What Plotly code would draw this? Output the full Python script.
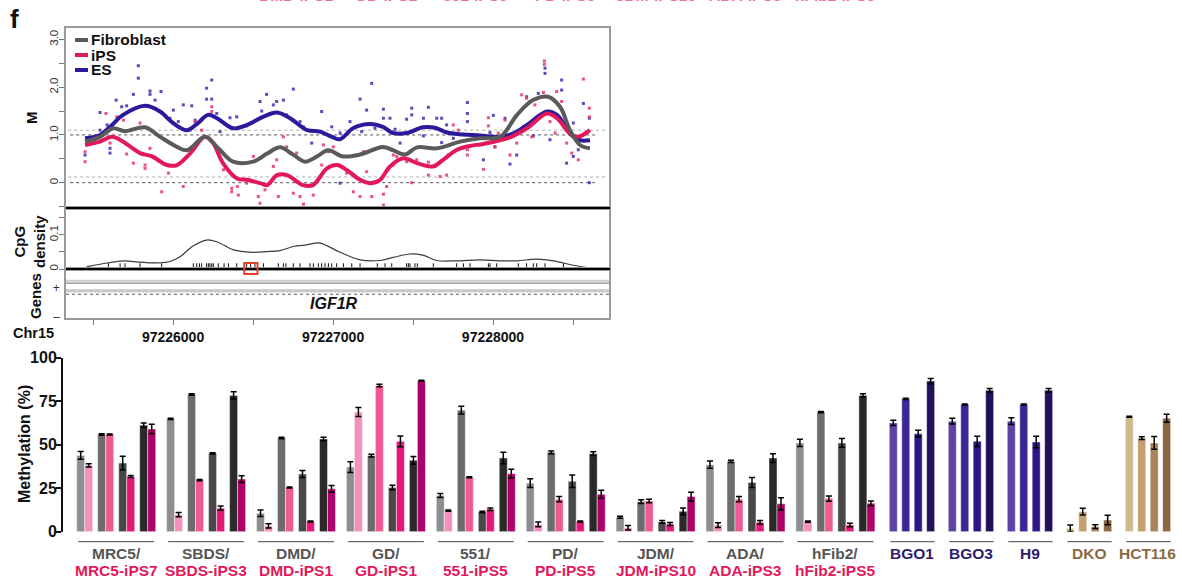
import plotly.graph_objects as go

W, H = 1182, 581
FONT = "Liberation Sans, Arial, Helvetica, sans-serif"

# ---------------- genome browser: IGF1R region, chr15 ----------------
# smoothed M-value profiles (position in bp, M)
fib_pos = [97225450, 97225544, 97225625, 97225700, 97225825, 97225919, 97226025, 97226088,
           97226200, 97226275, 97226375, 97226500, 97226588, 97226669, 97226750, 97226825,
           97226900, 97226969, 97227062, 97227169, 97227312, 97227375, 97227450, 97227525,
           97227650, 97227794, 97227919, 97228044, 97228150, 97228250, 97228344, 97228419,
           97228481, 97228544, 97228606]
fib_m = [0.86, 0.96, 1.14, 1.08, 1.16, 0.96, 0.75, 0.68, 0.96, 0.75, 0.44, 0.44, 0.61, 0.74,
         0.59, 0.44, 0.55, 0.68, 0.55, 0.59, 0.75, 0.68, 0.59, 0.74, 0.72, 0.86, 0.93, 0.96,
         1.42, 1.73, 1.80, 1.59, 1.10, 0.79, 0.72]

ips_pos = [97225450, 97225544, 97225619, 97225688, 97225794, 97225869, 97225962, 97226025,
           97226106, 97226200, 97226250, 97226312, 97226400, 97226462, 97226544, 97226588,
           97226650, 97226712, 97226812, 97226875, 97226962, 97227025, 97227088, 97227169,
           97227231, 97227294, 97227356, 97227438, 97227525, 97227625, 97227688, 97227775,
           97227856, 97227938, 97228044, 97228106, 97228212, 97228338, 97228400, 97228481,
           97228531, 97228606]
ips_m = [0.79, 0.86, 0.96, 0.86, 0.62, 0.55, 0.37, 0.37, 0.61, 0.96, 0.83, 0.41, 0.09, 0.06,
         -0.01, -0.05, 0.16, 0.16, -0.05, -0.05, 0.30, 0.37, 0.26, 0.06, -0.01, 0.06, 0.34,
         0.51, 0.41, 0.34, 0.48, 0.69, 0.77, 0.81, 0.89, 0.95, 1.14, 1.45, 1.35, 1.03, 0.96,
         1.10]

es_pos = [97225450, 97225544, 97225606, 97225688, 97225825, 97225919, 97226000, 97226088,
          97226156, 97226219, 97226275, 97226375, 97226462, 97226562, 97226650, 97226731,
          97226838, 97226919, 97226994, 97227044, 97227125, 97227231, 97227312, 97227375,
          97227462, 97227562, 97227638, 97227712, 97227812, 97227919, 97228044, 97228125,
          97228212, 97228338, 97228400, 97228481, 97228544, 97228606]
es_m = [0.93, 1.00, 1.17, 1.42, 1.61, 1.49, 1.25, 1.10, 1.25, 1.42, 1.35, 1.14, 1.21, 1.38,
        1.47, 1.35, 1.10, 1.07, 0.96, 0.91, 1.14, 1.23, 1.17, 1.04, 1.04, 1.16, 1.15, 1.05,
        1.01, 0.99, 0.96, 1.03, 1.21, 1.49, 1.42, 1.03, 0.89, 0.89]

# single-CpG M values
es_dot_pos = [97225450, 97225544, 97225544, 97225588, 97225606, 97225606, 97225644, 97225679,
              97225710, 97225752, 97225783, 97225783, 97225856, 97225856, 97225888, 97225925,
              97225981, 97226002, 97226033, 97226064, 97226117, 97226138, 97226210, 97226210,
              97226242, 97226242, 97226273, 97226294, 97226356, 97226398, 97226460, 97226544,
              97226554, 97226585, 97226627, 97226648, 97226690, 97226710, 97226752, 97226794,
              97226815, 97226867, 97226929, 97226992, 97227044, 97227044, 97227106, 97227169,
              97227179, 97227210, 97227242, 97227262, 97227315, 97227356, 97227315, 97227388,
              97227419, 97227460, 97227492, 97227492, 97227565, 97227565, 97227596, 97227648,
              97227679, 97227679, 97227710, 97227752, 97227840, 97227840, 97227840, 97227940,
              97227981, 97228002, 97228012, 97228075, 97228106, 97228148, 97228190, 97228210,
              97228252, 97228283, 97228325, 97228325, 97228356, 97228429, 97228429, 97228460,
              97228502, 97228502, 97228533, 97228565, 97228602, 97228602]
es_dot_m = [0.58, 1.47, 1.10, 1.21, 0.72, 0.62, 1.73, 1.59, 1.61, 1.85, 2.45, 2.19, 1.92, 1.85,
            1.73, 1.91, 1.35, 1.52, 1.28, 1.63, 1.61, 1.31, 1.98, 1.75, 2.15, 1.75, 1.45, 1.07,
            1.36, 1.38, 1.19, 1.70, 1.50, 1.85, 1.63, 1.70, 1.73, 1.42, 1.96, 1.28, 1.17, 0.83,
            1.49, 1.17, 1.04, -0.01, 1.28, 1.75, 1.07, 1.52, 2.08, 1.14, 1.54, 1.35, 1.35, 1.12,
            0.83, 1.33, 1.56, 1.42, 1.35, 0.98, 1.58, 1.35, 1.35, 0.84, 1.21, 0.93, 1.68, 1.45,
            1.28, 0.48, 1.05, 1.41, 0.75, 1.35, 0.39, 0.58, 1.17, 1.80, 0.98, 1.87, 2.40, 2.29,
            0.90, 2.15, 1.94, 0.41, 1.25, 0.55, 0.69, 1.66, 1.35, 0.00]

ips_dot_pos = [97225450, 97225450, 97225544, 97225581, 97225606, 97225648, 97225690, 97225710,
               97225752, 97225794, 97225825, 97225825, 97225856, 97225929, 97225971, 97226064,
               97226106, 97226138, 97226179, 97226242, 97226242, 97226273, 97226315, 97226367,
               97226367, 97226402, 97226408, 97226460, 97226502, 97226533, 97226544, 97226575,
               97226627, 97226648, 97226658, 97226690, 97226710, 97226752, 97226773, 97226794,
               97226815, 97226856, 97226877, 97226929, 97226940, 97226971, 97227002, 97227033,
               97227085, 97227127, 97227169, 97227190, 97227210, 97227242, 97227315, 97227335,
               97227377, 97227315, 97227377, 97227398, 97227460, 97227492, 97227523, 97227596,
               97227596, 97227638, 97227669, 97227710, 97227721, 97227752, 97227783, 97227840,
               97227840, 97227940, 97227971, 97227971, 97228012, 97228033, 97228075, 97228106,
               97228148, 97228179, 97228210, 97228242, 97228262, 97228315, 97228321, 97228321,
               97228356, 97228388, 97228398, 97228429, 97228460, 97228492, 97228533, 97228565,
               97228602, 97228602]
ips_dot_m = [0.65, 0.44, 0.96, 1.45, 0.83, 1.38, 1.31, 0.60, 0.41, 1.25, 0.37, 0.30, 0.72,
             -0.19, 0.20, -0.08, 1.10, 1.28, 1.10, 1.59, 1.49, 0.69, 0.27, -0.12, -0.19, -0.08,
             -0.26, -0.01, 0.55, -0.29, -0.43, -0.15, 0.34, 0.48, -0.29, 0.96, 0.75, -0.22,
             0.62, -0.29, -0.45, -0.05, -0.26, 0.37, 0.79, 0.65, 0.75, 0.37, 0.20, -0.19, -0.29,
             0.65, 0.23, -0.29, -0.47, -0.08, 0.37, -0.24, 0.58, 0.55, 0.44, 0.00, 0.48, 0.43,
             0.16, 0.34, 0.13, 0.16, 0.58, 1.21, 1.10, 0.69, 0.58, 0.28, 1.36, 1.19, 0.75, 1.04,
             1.31, 0.58, 0.83, 1.84, 1.77, 0.96, 1.63, 1.89, 2.55, 2.48, 1.28, 1.04, 1.91, 1.70,
             0.83, 0.62, 0.48, 2.17, 1.56, 1.38]

# reference M levels (dark dotted / light dotted)
ref_levels = [0.0, 1.0]
ref_levels_light = [0.12, 1.1]

# CpG density and CpG sites
cpg_pos = [97225461, 97225544, 97225689, 97225794, 97225898, 97225981, 97226044, 97226127,
           97226210, 97226273, 97226377, 97226440, 97226502, 97226585, 97226669, 97226752,
           97226835, 97226919, 97227044, 97227169, 97227294, 97227377, 97227481, 97227565,
           97227648, 97227773, 97227919, 97228044, 97228148, 97228273, 97228377, 97228502,
           97228606]
cpg_density = [0.007, 0.014, 0.024, 0.020, 0.018, 0.022, 0.036, 0.068, 0.085, 0.080, 0.056,
               0.051, 0.049, 0.051, 0.054, 0.066, 0.071, 0.076, 0.049, 0.027, 0.025, 0.034,
               0.044, 0.040, 0.025, 0.024, 0.027, 0.024, 0.024, 0.029, 0.024, 0.011, 0.003]
cpg_sites = [97225596, 97225669, 97225700, 97225794, 97225929, 97226127, 97226148, 97226165,
             97226179, 97226210, 97226221, 97226231, 97226242, 97226252, 97226283, 97226319,
             97226346, 97226398, 97226460, 97226485, 97226512, 97226565, 97226658, 97226690,
             97226706, 97226752, 97226794, 97226856, 97226877, 97226908, 97226929, 97226950,
             97226971, 97226992, 97227023, 97227065, 97227117, 97227169, 97227277, 97227325,
             97227367, 97227460, 97227471, 97227481, 97227512, 97227527, 97227627, 97227773,
             97227815, 97227856, 97227971, 97227981, 97228023, 97228158, 97228210, 97228252,
             97228273, 97228325, 97228440]
pyro_region = [97226445, 97226528]   # assayed region (red box)

gene_name = "IGF1R"
gene_label_pos = 97227006
chrom = "Chr15"
x_ticks = [97225500, 97226000, 97226500, 97227000, 97227500, 97228000, 97228500]
x_ticklabels = ["", "97226000", "", "97227000", "", "97228000", ""]

# ---------------- pyrosequencing: methylation (%) at 4 CpGs ----------------
groups = ["MRC5", "SBDS", "DMD", "GD", "551", "PD", "JDM", "ADA", "hFib2"]
ips_lines = ["MRC5-iPS7", "SBDS-iPS3", "DMD-iPS1", "GD-iPS1", "551-iPS5", "PD-iPS5",
             "JDM-iPS10", "ADA-iPS3", "hFib2-iPS5"]
fib_pct = [[43.8, 55.8, 39.4, 61.2], [64.8, 78.8, 45.0, 78.3], [10.6, 53.8, 33.1, 53.3],
           [37.1, 43.7, 25.4, 41.0], [20.8, 69.8, 11.3, 42.3], [27.9, 45.6, 29.0, 44.8],
           [8.3, 17.3, 5.6, 11.7], [38.5, 40.4, 28.3, 42.3], [51.0, 68.7, 51.0, 78.3]]
fib_sd = [[2.2, 0.4, 4.0, 1.2], [0.4, 0.4, 0.4, 2.1], [1.9, 0.4, 2.0, 1.0],
          [3.1, 0.8, 1.3, 2.2], [1.2, 2.2, 0.4, 3.3], [2.5, 0.8, 3.6, 1.1],
          [0.6, 1.1, 0.8, 1.9], [2.1, 0.7, 2.9, 2.5], [2.1, 0.4, 2.5, 1.0]]
ips_pct = [[38.1, 55.8, 31.7, 59.0], [9.8, 29.6, 13.5, 30.2], [3.3, 25.4, 5.8, 24.6],
           [68.7, 84.0, 51.9, 86.7], [12.1, 31.3, 12.9, 33.3], [4.2, 18.7, 5.8, 21.5],
           [2.3, 17.7, 4.4, 20.2], [3.8, 18.7, 5.4, 16.0], [5.8, 19.0, 3.8, 16.3]]
ips_sd = [[1.0, 0.3, 0.6, 2.7], [1.2, 0.4, 1.2, 1.9], [1.2, 0.3, 0.3, 1.9],
          [2.6, 0.7, 3.1, 0.3], [0.3, 0.3, 0.7, 2.5], [1.3, 1.5, 0.3, 2.3],
          [1.3, 1.0, 0.9, 2.5], [1.4, 1.5, 1.1, 3.5], [0.4, 1.5, 1.0, 1.4]]

es_lines = ["BGO1", "BGO3", "H9"]
es_pct = [[62.5, 76.3, 56.3, 86.5], [63.5, 73.1, 51.9, 81.2], [63.5, 73.1, 51.5, 81.2]]
es_sd = [[1.5, 0.3, 1.9, 1.5], [1.7, 0.3, 2.9, 1.0], [1.9, 0.3, 3.3, 1.0]]
ctrl_lines = ["DKO", "HCT116"]
ctrl_pct = [[1.9, 11.5, 2.9, 6.7], [66.0, 53.7, 51.0, 65.2]]
ctrl_sd = [[1.9, 1.9, 1.1, 2.7], [0.3, 0.8, 3.7, 2.3]]

pct_ticks = [0, 25, 50, 75, 100]

# ---------------- styles ----------------
FIB_C, IPS_C, ES_C = "#5a5a5a", "#e2185b", "#2c1a9c"
IPS_DOT, ES_DOT = "#e8336b", "#3b2db0"
FRAME = "#9a9a9a"
GRAY_BARS = ["#8e8e92", "#6c6c6c", "#484848", "#2a2a2a"]
PINK_BARS = ["#f391bc", "#ee5a92", "#e5187a", "#ad0069"]
PURPLE_BARS = ["#5d43a3", "#3d2796", "#2c1784", "#22105a"]
TAN_BARS = ["#cdbb8c", "#c49f70", "#a98459", "#8b6640"]
LBL_GRAY, LBL_PINK, LBL_PURPLE, LBL_BROWN = "#555555", "#e2185b", "#2d1b6e", "#8b6a3f"


def fx(p):
    """horizontal page pixel -> paper fraction"""
    return p / W


def fy(p):
    """vertical page pixel (from top) -> paper fraction"""
    return 1 - p / H


X_DOM = [fx(66), fx(609)]
X_RANGE = [97225331, 97228725]

# bar layout (x axis of the bar panel is in page pixels)
BAR_W = 8
FIB_X0, FIB_PITCH, PAIR_PITCH = 76.7, 89.9, 21.0
ES_X0, ES_PITCH, ES_STEP = 889.3, 59.0, 12.45

fig = go.Figure()

# ---- M panel: single CpG values ----
for xs, ys, col in [(es_dot_pos, es_dot_m, ES_DOT), (ips_dot_pos, ips_dot_m, IPS_DOT)]:
    fig.add_trace(go.Scatter(x=xs, y=ys, mode="markers", xaxis="x", yaxis="y",
                             marker=dict(symbol="square", size=3, color=col, opacity=0.85),
                             hoverinfo="skip", showlegend=False))

# ---- M panel: smoothed profiles ----
for xs, ys, col, name in [(es_pos, es_m, ES_C, "ES"), (ips_pos, ips_m, IPS_C, "iPS"),
                          (fib_pos, fib_m, FIB_C, "Fibroblast")]:
    fig.add_trace(go.Scatter(x=xs, y=ys, mode="lines", name=name, xaxis="x", yaxis="y",
                             line=dict(color=col, width=4, shape="spline", smoothing=1.0),
                             hoverinfo="skip", showlegend=False))

# ---- CpG density panel ----
fig.add_trace(go.Scatter(x=cpg_pos, y=cpg_density, mode="lines", xaxis="x2", yaxis="y2",
                         line=dict(color="#3c3c3c", width=1.2, shape="spline", smoothing=1.0),
                         hoverinfo="skip", showlegend=False))
RUG_Y = 0.0065
fig.add_trace(go.Scatter(x=cpg_sites, y=[RUG_Y] * len(cpg_sites), mode="markers",
                         xaxis="x2", yaxis="y2", cliponaxis=False,
                         marker=dict(symbol="line-ns", size=5,
                                     line=dict(color="#111111", width=1)),
                         hoverinfo="skip", showlegend=False))

# ---- bar panel ----
EDGE = dict(color="rgba(255,255,255,0.55)", width=0.8)
ERR = dict(type="data", color="#000", thickness=1.5, width=3)
for k in range(4):
    gx = [FIB_X0 + g * FIB_PITCH + k * PAIR_PITCH + BAR_W / 2 for g in range(len(groups))]
    fig.add_trace(go.Bar(x=gx, y=[v[k] for v in fib_pct], width=BAR_W, xaxis="x4", yaxis="y4",
                         marker=dict(color=GRAY_BARS[k], line=EDGE),
                         error_y=dict(array=[v[k] for v in fib_sd], **ERR),
                         hoverinfo="skip", showlegend=False))
    ix = [x + BAR_W for x in gx]
    fig.add_trace(go.Bar(x=ix, y=[v[k] for v in ips_pct], width=BAR_W, xaxis="x4", yaxis="y4",
                         marker=dict(color=PINK_BARS[k], line=EDGE),
                         error_y=dict(array=[v[k] for v in ips_sd], **ERR),
                         hoverinfo="skip", showlegend=False))

other_pct = es_pct + ctrl_pct
other_sd = es_sd + ctrl_sd
for k in range(4):
    ox = [ES_X0 + g * ES_PITCH + k * ES_STEP + BAR_W / 2 for g in range(len(other_pct))]
    cols = [PURPLE_BARS[k]] * len(es_pct) + [TAN_BARS[k]] * len(ctrl_pct)
    fig.add_trace(go.Bar(x=ox, y=[v[k] for v in other_pct], width=BAR_W, xaxis="x4", yaxis="y4",
                         marker=dict(color=cols, line=EDGE),
                         error_y=dict(array=[v[k] for v in other_sd], **ERR),
                         hoverinfo="skip", showlegend=False))

shapes = []
annotations = []

# reference levels in M panel
for lv in ref_levels:
    shapes.append(dict(type="line", xref="x", yref="y", x0=97225357, x1=97228637, y0=lv, y1=lv,
                       line=dict(color="#555555", width=1, dash="dot"), layer="below"))
for lv in ref_levels_light:
    shapes.append(dict(type="line", xref="x", yref="y", x0=97225344, x1=97228719, y0=lv, y1=lv,
                       line=dict(color="#b0b0b0", width=1, dash="dot"), layer="below"))

# panel separators
for ax in ["y", "y2"]:
    shapes.append(dict(type="line", xref="x domain", yref=ax + " domain", x0=0, x1=1.002,
                       y0=0, y1=0, line=dict(color="#000000", width=2)))

# gene model lines
shapes.append(dict(type="rect", xref="x3 domain", yref="y3", x0=0, x1=1, y0=0.42, y1=0.56,
                   fillcolor="#d2d2d2", line=dict(width=0)))
for yv, col, dash in [(0.41, "#9a9a9a", "solid"), (0.14, "#9a9a9a", "solid"),
                      (0.07, "#b5b5b5", "solid"), (-0.03, "#555555", "dot")]:
    shapes.append(dict(type="line", xref="x3 domain", yref="y3", x0=0, x1=1, y0=yv, y1=yv,
                       line=dict(color=col, width=1, dash=dash)))

# assayed region box
shapes.append(dict(type="rect", xref="x2", yref="paper", x0=pyro_region[0], x1=pyro_region[1],
                   y0=fy(274), y1=fy(263), line=dict(color="#e8402a", width=2)))

# legend (drawn keys)
for i, (name, col) in enumerate([("Fibroblast", FIB_C), ("iPS", IPS_C), ("ES", ES_C)]):
    yy = 40 + 15 * i
    shapes.append(dict(type="line", xref="paper", yref="paper", x0=fx(75), x1=fx(88),
                       y0=fy(yy), y1=fy(yy), line=dict(color=col, width=4)))
    annotations.append(dict(text="<b>%s</b>" % name, x=fx(88.5), y=fy(yy),
                            xanchor="left", yanchor="middle",
                            font=dict(size=15.5, color="#111", family=FONT)))

# panel titles
annotations += [
    dict(text="<b>f</b>", x=fx(8), y=fy(19), xanchor="left", yanchor="middle",
         font=dict(size=26, color="#111", family=FONT)),
    dict(text="<b>M</b>", x=fx(31), y=fy(118), textangle=-90, xanchor="center", yanchor="middle",
         font=dict(size=15, color="#111", family=FONT)),
    dict(text="<b>CpG<br>density</b>", x=fx(29), y=fy(241), textangle=-90, xanchor="center",
         yanchor="middle", font=dict(size=15, color="#111", family=FONT)),
    dict(text="<b>Genes</b>", x=fx(35), y=fy(296), textangle=-90, xanchor="center",
         yanchor="middle", font=dict(size=15, color="#111", family=FONT)),
    dict(text="<b>%s</b>" % chrom, x=fx(33), y=fy(333), xanchor="center", yanchor="middle",
         font=dict(size=14.5, color="#111", family=FONT)),
    dict(text="<b>Methylation (%)</b>", x=fx(24), y=fy(444), textangle=-90, xanchor="center",
         yanchor="middle", font=dict(size=16, color="#111", family=FONT)),
]
for a in annotations:
    a.setdefault("xref", "paper")
    a.setdefault("yref", "paper")
    a.setdefault("showarrow", False)

annotations.append(dict(text="<b><i>%s</i></b>" % gene_name, xref="x3", yref="y3",
                        x=gene_label_pos, y=-0.39, showarrow=False, xanchor="center",
                        yanchor="middle", font=dict(size=16, color="#111", family=FONT)))

# group labels under bars
for g, (fname, iname) in enumerate(zip(groups, ips_lines)):
    left = FIB_X0 + g * FIB_PITCH
    right = left + 3 * PAIR_PITCH + 2 * BAR_W
    cx = (left + right) / 2
    shapes.append(dict(type="line", xref="x4", yref="paper", x0=left + 1.5, x1=right - 1.5,
                       y0=fy(541.7), y1=fy(541.7), line=dict(color="#6a6a6a", width=1.2)))
    annotations.append(dict(text="<b>%s/</b>" % fname, xref="x4", yref="paper", x=cx, y=fy(553),
                            showarrow=False, xanchor="center", yanchor="middle",
                            font=dict(size=15.5, color=LBL_GRAY, family=FONT)))
    annotations.append(dict(text="<b>%s</b>" % iname, xref="x4", yref="paper", x=cx, y=fy(570.5),
                            showarrow=False, xanchor="center", yanchor="middle",
                            font=dict(size=15.5, color=LBL_PINK, family=FONT)))

for g, name in enumerate(es_lines + ctrl_lines):
    left = ES_X0 + g * ES_PITCH
    right = left + 3 * ES_STEP + BAR_W
    cx = (left + right) / 2
    col = LBL_PURPLE if name in es_lines else LBL_BROWN
    shapes.append(dict(type="line", xref="x4", yref="paper", x0=left + 1, x1=right,
                       y0=fy(541.7), y1=fy(541.7), line=dict(color="#6a6a6a", width=1.2)))
    annotations.append(dict(text="<b>%s</b>" % name, xref="x4", yref="paper", x=cx, y=fy(553),
                            showarrow=False, xanchor="center", yanchor="middle",
                            font=dict(size=15.5, color=col, family=FONT)))

# lower edge of the line labels of the panel above (cut by the page edge)
for g, iname in enumerate(ips_lines[2:]):
    cx = FIB_X0 + (g + 2) * FIB_PITCH + 39.5
    annotations.append(dict(text="<b>%s</b>" % iname, xref="x4", yref="paper", x=cx,
                            y=fy(-4.5), showarrow=False, xanchor="center", yanchor="middle",
                            font=dict(size=15.5, color="#ee6f9a", family=FONT)))

axis_common = dict(showgrid=False, zeroline=False, showline=True, mirror=True,
                   linecolor=FRAME, linewidth=1.5)

fig.update_layout(
    width=W, height=H, margin=dict(l=0, r=0, t=0, b=0, autoexpand=False),
    paper_bgcolor="white", plot_bgcolor="white",
    showlegend=False, barmode="overlay",
    font=dict(family=FONT, color="#222"),
    xaxis=dict(domain=X_DOM, anchor="y", range=X_RANGE, showticklabels=False, ticks="",
               **axis_common),
    yaxis=dict(domain=[fy(208), fy(28)], anchor="x", range=[-0.53, 3.24],
               tickvals=[-0.5, 0, 0.5, 1, 1.5, 2, 2.5, 3],
               ticktext=["", "0", "", "1.0", "", "2.0", "", "3.0"],
               tickangle=-90, ticks="outside", ticklen=5, tickcolor="#777",
               ticklabelstandoff=-3,
               tickfont=dict(size=11.5, color="#333"), **axis_common),
    xaxis2=dict(domain=X_DOM, anchor="y2", matches="x", showticklabels=False, ticks="",
                **axis_common),
    yaxis2=dict(domain=[fy(269), fy(208)], anchor="x2", range=[0, 0.179],
                tickvals=[0, 0.05, 0.1, 0.15], ticktext=["0", "", "0.1", ""],
                tickangle=-90, ticks="outside", ticklen=5, tickcolor="#777",
                ticklabelstandoff=-3,
                tickfont=dict(size=11.5, color="#333"), **axis_common),
    xaxis3=dict(domain=X_DOM, anchor="y3", matches="x", tickvals=x_ticks,
                ticktext=x_ticklabels, ticks="outside", ticklen=5, tickcolor="#777",
                tickfont=dict(size=14, color="#111", weight="bold"), **axis_common),
    yaxis3=dict(domain=[fy(318), fy(269)], anchor="x3", range=[-1, 1],
                tickvals=[0.22, -0.96], ticktext=["+", "\u2013"], tickangle=0, ticks="",
                ticklabelstandoff=2,
                tickfont=dict(size=12, color="#333"), **axis_common),
    xaxis4=dict(domain=[fx(63), 1], anchor="y4", range=[63, W], visible=False),
    yaxis4=dict(domain=[fy(531.7), fy(357.6)], anchor="x4", range=[0, 100],
                tickvals=pct_ticks, ticks="outside", ticklen=5, tickwidth=2, tickcolor="#111",
                ticklabelstandoff=-4,
                showline=True, linecolor="#111", linewidth=2, showgrid=False, zeroline=False,
                tickfont=dict(size=16, color="#111", weight="bold")),
    shapes=shapes,
    annotations=annotations,
)

fig.write_html("out.html")
